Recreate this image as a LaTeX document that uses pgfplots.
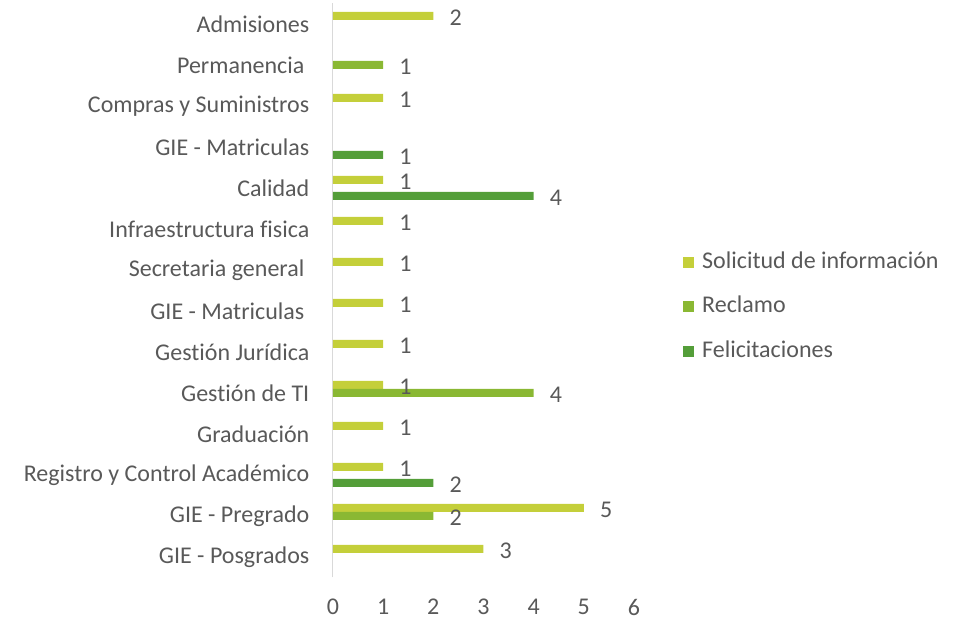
\documentclass[border=0pt]{standalone}
\usepackage{pgfplots}
\pgfplotsset{compat=1.18}
\usepackage{fontspec}
\setmainfont{Carlito}[Ligatures={NoCommon}]
\definecolor{cS}{HTML}{C4CF3A}
\definecolor{cR}{HTML}{8AB833}
\definecolor{cF}{HTML}{549E39}
\definecolor{txt}{HTML}{595959}
\definecolor{axl}{HTML}{D9D9D9}
\newcommand{\tsp}{\makebox[5pt]{}}
\begin{document}
\begin{tikzpicture}
\path[use as bounding box] (-333pt,-42.5pt) rectangle (637pt,577.5pt);
\begin{axis}[
  scale only axis,
  width=301pt, height=574pt,
  xmin=0, xmax=6, ymin=-0.5, ymax=13.5,
  xbar, bar width=8pt,
  axis line style={draw=none},
  ytick={0,...,13},
  yticklabels={GIE - Posgrados, GIE - Pregrado, Registro y Control Académico, Graduación, Gestión de TI, Gestión Jurídica, {GIE - Matriculas\tsp}, {Secretaria general\tsp}, Infraestructura fisica, Calidad, GIE - Matriculas, Compras y Suministros, {Permanencia\tsp}, Admisiones},
  xtick={0,...,6},
  major tick length=0pt,
  tick style={draw=none},
  /pgf/number format/assume math mode=true,
  yticklabel style={font=\fontsize{24}{28}\selectfont, text=txt, inner sep=0pt, anchor=east, xshift=-23.5pt},
  xticklabel style={font=\fontsize{24}{28}\selectfont, text=txt, inner sep=0pt, anchor=center, yshift=-29.5pt},
  nodes near coords,
  nodes near coords style={font=\fontsize{24}{28}\selectfont, text=txt, inner sep=0pt, anchor=west, xshift=16pt, yshift=-1.5pt},
  legend style={at={(1.1628,0.4713)}, anchor=west, draw=none, fill=none, inner sep=0pt,
    font=\fontsize{24}{28}\selectfont, text=txt, row sep=22.5pt,
    nodes={inner sep=0pt, text height=17pt, text depth=5pt, anchor=west}},
  legend cell align=left,
  legend image code/.code={\fill[#1] (0pt,-5.5pt) rectangle (11pt,5.5pt);},
  clip=false,
]
\draw[axl, line width=1pt] (axis cs:0,-0.5) -- (axis cs:0,13.5);
\addplot[fill=cS, draw=none, bar shift=8pt] coordinates {
 (3,0) (5,1) (1,2) (1,3) (1,4) (1,5) (1,6) (1,7) (1,8) (1,9) (1,11) (2,13)};
\addlegendentry{\hspace{8pt}Solicitud de información}
\addplot[fill=cR, draw=none, bar shift=0pt] coordinates {
 (2,1) (4,4) (1,12)};
\addlegendentry{\hspace{8pt}Reclamo}
\addplot[fill=cF, draw=none, bar shift=-8pt] coordinates {
 (2,2) (4,9) (1,10)};
\addlegendentry{\hspace{8pt}Felicitaciones}
\end{axis}
\end{tikzpicture}
\end{document}
